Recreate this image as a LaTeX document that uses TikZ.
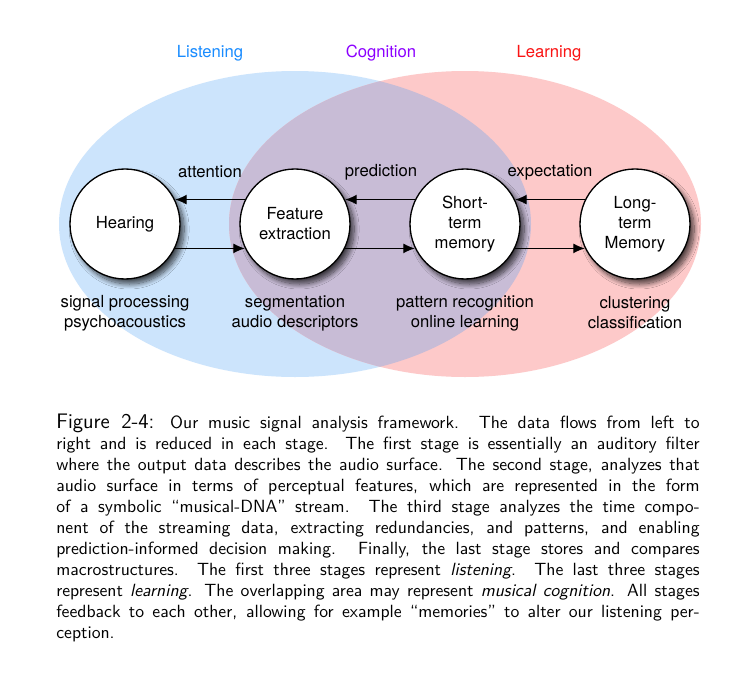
\documentclass[tikz,border=0pt]{standalone}
\usepackage{fontspec}
\setmainfont{TeX Gyre Heros}
\usetikzlibrary{arrows.meta,shadows.blur}

\definecolor{listenblue}{RGB}{204,228,252}
\definecolor{learnred}{RGB}{253,201,201}
\definecolor{cogpurple}{RGB}{200,188,214}
\definecolor{listentext}{RGB}{25,140,255}
\definecolor{cogtext}{RGB}{140,0,255}
\definecolor{learntext}{RGB}{250,20,20}

\newcommand{\capline}[1]{\makebox[386pt][s]{#1}}

\tikzset{
  stage/.style={draw,thick,fill=white,circle,minimum size=66pt,inner sep=0pt,align=center,
    blur shadow={shadow xshift=2.5pt,shadow yshift=-3pt,shadow opacity=70,shadow blur radius=3pt,shadow blur steps=12}},
  flow/.style={thick,-{Latex[length=7pt,width=6pt]}},
  task/.style={align=center}
}

\begin{document}
\begin{tikzpicture}[x=0.6pt,y=-0.6pt,font=\fontsize{10}{12}\selectfont]
    \useasboundingbox[fill=white] (0,0) rectangle (755,675);

    \fill[listenblue] (295,224) ellipse [x radius=141.6pt,y radius=91.8pt];
    \fill[learnred] (465,224) ellipse [x radius=141.6pt,y radius=91.8pt];
    \begin{scope}
        \clip (295,224) ellipse [x radius=141.6pt,y radius=91.8pt];
        \fill[cogpurple] (465,224) ellipse [x radius=141.6pt,y radius=91.8pt];
    \end{scope}

    \node[text=listentext] at (210,53) (listening) {Listening};
    \node[text=cogtext] at (381,53) (cognition) {Cognition};
    \node[text=learntext] at (549,53) (learning) {Learning};

    \node[stage] at (125,224) (hear) {Hearing};
    \node[task] at (125,313) (hearjob) {signal processing\\psychoacoustics};
    \node[stage] at (295,224) (feat) {Feature\\extraction};
    \node[task] at (295,313) (featjob) {segmentation\\audio descriptors};
    \node[stage] at (465,224) (short) {Short-\\term\\memory};
    \node[task] at (465,313) (shortjob) {pattern recognition\\online learning};
    \node[stage] at (635,224) (long) {Long-\\term\\Memory};
    \node[task] at (635,313) (longjob) {clustering\\classification};

    \node at (210,172) (attention) {attention};
    \node at (381,172) (prediction) {prediction};
    \node at (550,172) (expectation) {expectation};

    \draw[flow] (feat.154) -- (hear.26);
    \draw[flow] (short.154) -- (feat.26);
    \draw[flow] (long.154) -- (short.26);
    \draw[flow] (hear.-26) -- (feat.206);
    \draw[flow] (feat.-26) -- (short.206);
    \draw[flow] (short.-26) -- (long.206);

    \node[anchor=north west,inner sep=0pt,align=left,font=\sffamily\fontsize{10.6}{12.6}\selectfont] at (56,414) (caption) {%
        \capline{{\fontsize{12.6}{12.6}\selectfont Figure 2-4:} Our music signal analysis framework. The data flows from left to}\\
        \capline{right and is reduced in each stage. The first stage is essentially an auditory filter}\\
        \capline{where the output data describes the audio surface. The second stage, analyzes that}\\
        \capline{audio surface in terms of perceptual features, which are represented in the form}\\
        \capline{of a symbolic “musical-DNA” stream. The third stage analyzes the time compo-}\\
        \capline{nent of the streaming data, extracting redundancies, and patterns, and enabling}\\
        \capline{prediction-informed decision making. Finally, the last stage stores and compares}\\
        \capline{macrostructures. The first three stages represent \emph{listening}. The last three stages}\\
        \capline{represent \emph{learning}. The overlapping area may represent \emph{musical cognition}. All stages}\\
        \capline{feedback to each other, allowing for example “memories” to alter our listening per-}\\
        ception.};
\end{tikzpicture}
\end{document}
